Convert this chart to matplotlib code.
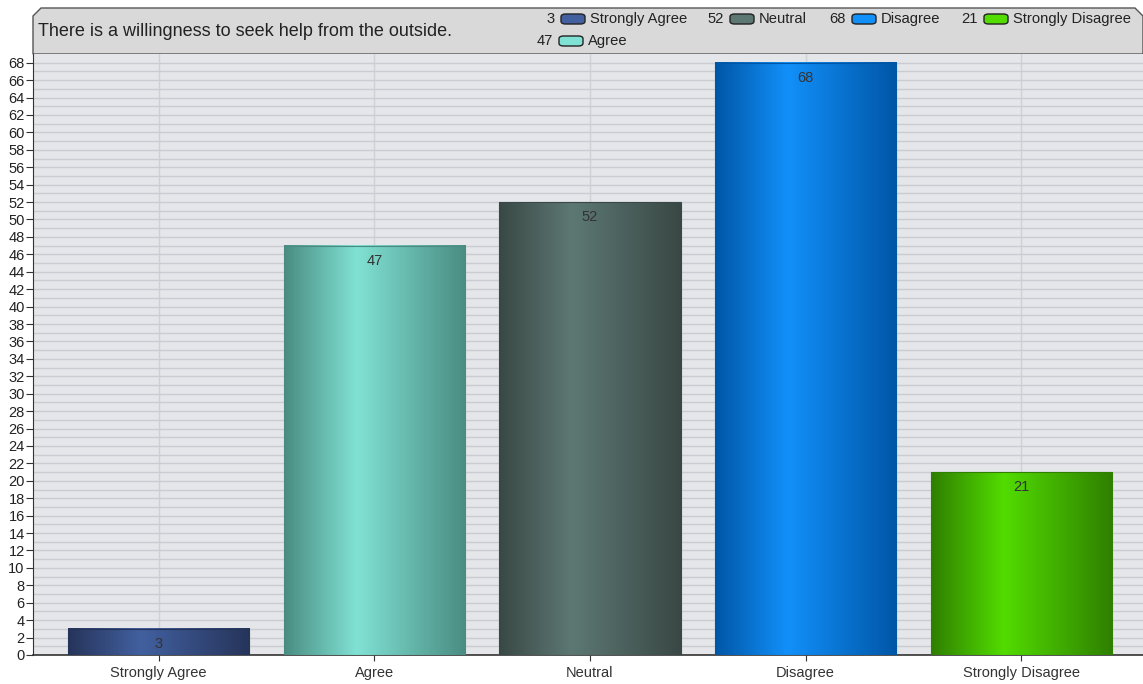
"""Likert bar chart: willingness to seek help from the outside."""
import matplotlib
matplotlib.use("Agg")
import matplotlib.pyplot as plt
import numpy as np
from matplotlib.colors import LinearSegmentedColormap
from matplotlib.patches import Polygon, FancyBboxPatch

plt.rcParams["font.family"] = ["Liberation Sans", "DejaVu Sans"]

title = "There is a willingness to seek help from the outside."
categories = ["Strongly Agree", "Agree", "Neutral", "Disagree", "Strongly Disagree"]
values = [3, 47, 52, 68, 21]
# (edge, highlight) colours for the cylinder-like gradient
edge_colors = ["#26345a", "#4a8c82", "#394845", "#0056a6", "#2f7f00"]
light_colors = ["#4260a0", "#80e2d4", "#5d7873", "#1290fa", "#52dc00"]

W, H = 1143, 684
fig = plt.figure(figsize=(W / 100, H / 100), dpi=100)
fig.patch.set_facecolor("white")

# header box with bevelled top corners
hx0, hx1, hy0, hy1 = 33 / W, 1143 / W, 1 - 54 / H, 1 - 8 / H
bev = 8
header = Polygon(
    [(hx0, hy0), (hx0, 1 - (8 + bev) / H), ((33 + bev) / W, hy1),
     ((1143 - bev) / W, hy1), (hx1, 1 - (8 + bev) / H), (hx1, hy0)],
    closed=True, transform=fig.transFigure, facecolor="#d9d9d9",
    edgecolor="#555555", linewidth=1.0, zorder=0)
fig.add_artist(header)
fig.text(38 / W, 1 - 31 / H, title, fontsize=13, color="#222222",
         va="center", ha="left")

ax = fig.add_axes([33 / W, 29 / H, 1110 / W, 601 / H])
ax.set_facecolor("#e4e6e9")
ax.set_xlim(-0.583, 4.565)
ax.set_ylim(0, 69)

x = np.arange(len(categories))
width = 0.84
grad = np.linspace(0, 1, 256)
for i, (v, ec, lc) in enumerate(zip(values, edge_colors, light_colors)):
    cmap = LinearSegmentedColormap.from_list(
        f"c{i}", [(0, ec), (0.4, lc), (1, ec)])
    x0, x1 = x[i] - width / 2, x[i] + width / 2
    ax.imshow(grad[np.newaxis, :], cmap=cmap, aspect="auto",
              extent=(x0, x1, 0, v), zorder=3, interpolation="bilinear")
    ax.add_patch(plt.Rectangle((x0, 0), width, v, fill=False,
                               edgecolor=ec, linewidth=0.8, zorder=4))
    ax.annotate(str(v), (x[i], v), xytext=(0, -11), textcoords="offset points",
                ha="center", va="center", fontsize=10.5, color="#333333",
                zorder=5)

ax.set_yticks(np.arange(0, 69, 2))
ax.set_yticks(np.arange(0, 69, 1), minor=True)
ax.set_xticks(x)
ax.set_xticklabels(categories)
ax.tick_params(axis="y", which="major", labelsize=10.5, length=5,
               color="#333333", labelcolor="#222222", pad=1)
ax.tick_params(axis="y", which="minor", length=0)
ax.tick_params(axis="x", labelsize=10.5, length=4, color="#333333",
               labelcolor="#333333", pad=4)
ax.grid(axis="y", which="both", color="#c9ccd3", linewidth=1.0, zorder=1)
ax.grid(axis="x", color="#cfd1d5", linewidth=1.0, zorder=1)
ax.set_axisbelow(True)
for side in ("top", "right"):
    ax.spines[side].set_visible(False)
ax.spines["left"].set_color("#333333")
ax.spines["bottom"].set_color("#333333")
ax.spines["bottom"].set_linewidth(1.2)

# legend inside the header: value, icon, label
legend_pos = [(555, 19), (553, 41), (724, 19), (846, 19), (978, 19)]
for i in range(len(categories)):
    px, py = legend_pos[i]
    fy = 1 - py / H
    fig.text(px / W, fy, str(values[i]), fontsize=10.6, color="#222222",
             ha="right", va="center")
    icon = FancyBboxPatch(((px + 6) / W, fy - 5 / H), 24 / W, 10 / H,
                          boxstyle="round,pad=0,rounding_size=0.004",
                          transform=fig.transFigure, facecolor=light_colors[i],
                          edgecolor="#222222", linewidth=1.0, zorder=2)
    fig.add_artist(icon)
    fig.text((px + 35) / W, fy, categories[i], fontsize=10.6, color="#222222",
             ha="left", va="center")

fig.savefig("out.png", dpi=100)
